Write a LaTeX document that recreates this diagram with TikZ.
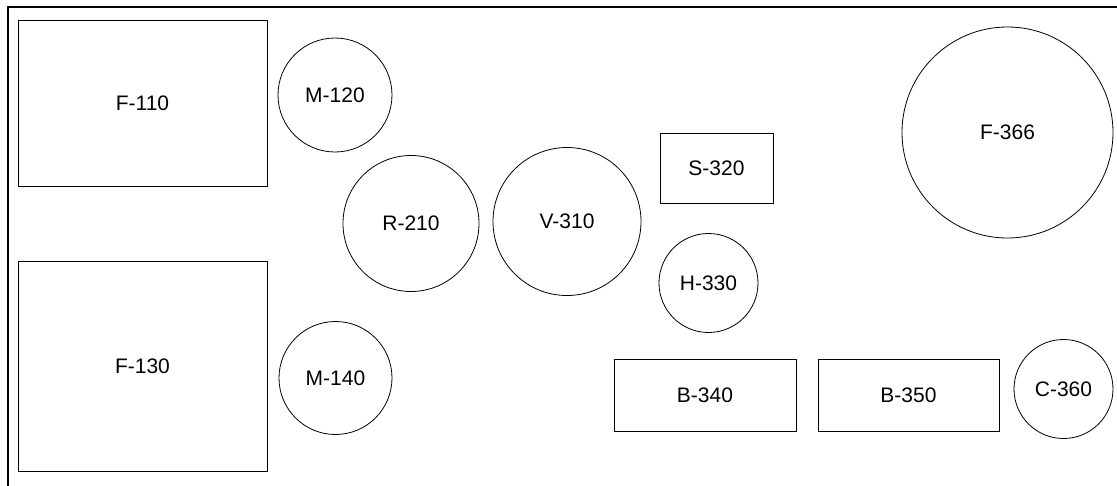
\documentclass[tikz,border=0pt]{standalone}
\usepackage{fontspec}
\setmainfont{Liberation Sans}
\begin{document}
\begin{tikzpicture}[x=1pt, y=-1pt,
	unit/.style={draw, line width=0.8pt, rectangle, inner sep=0pt, font=\fontsize{21}{25}\selectfont},
	vessel/.style={draw, line width=0.8pt, circle, inner sep=0pt, font=\fontsize{21}{25}\selectfont}]
			\useasboundingbox (0,0) rectangle (1117,485);
			\clip (0,0) rectangle (1117,485);
			\draw[line width=2.4pt] (8,7) rectangle (1130,500);
			\node[unit, minimum width=249pt, minimum height=166pt] (f110) at (142.5,103) {F-110};
			\node[unit, minimum width=249pt, minimum height=210pt] (f130) at (142.5,366) {F-130};
			\node[vessel, minimum size=114pt] (m120) at (335,95) {M-120};
			\node[vessel, minimum size=113pt] (m140) at (335.5,378) {M-140};
			\node[vessel, minimum size=136pt] (r210) at (411,223.5) {R-210};
			\node[vessel, minimum size=148pt] (v310) at (567,221.5) {V-310};
			\node[unit, minimum width=113pt, minimum height=70pt] (s320) at (716.5,168) {S-320};
			\node[vessel, minimum size=99pt] (h330) at (708.5,283) {H-330};
			\node[unit, minimum width=182pt, minimum height=72pt] (b340) at (705,395) {B-340};
			\node[unit, minimum width=181pt, minimum height=72pt] (b350) at (908.5,395) {B-350};
			\node[vessel, minimum size=99pt] (c360) at (1063.5,389) {C-360};
			\node[vessel, minimum size=211pt] (f366) at (1007.5,132.5) {F-366};
		\end{tikzpicture}
\end{document}
